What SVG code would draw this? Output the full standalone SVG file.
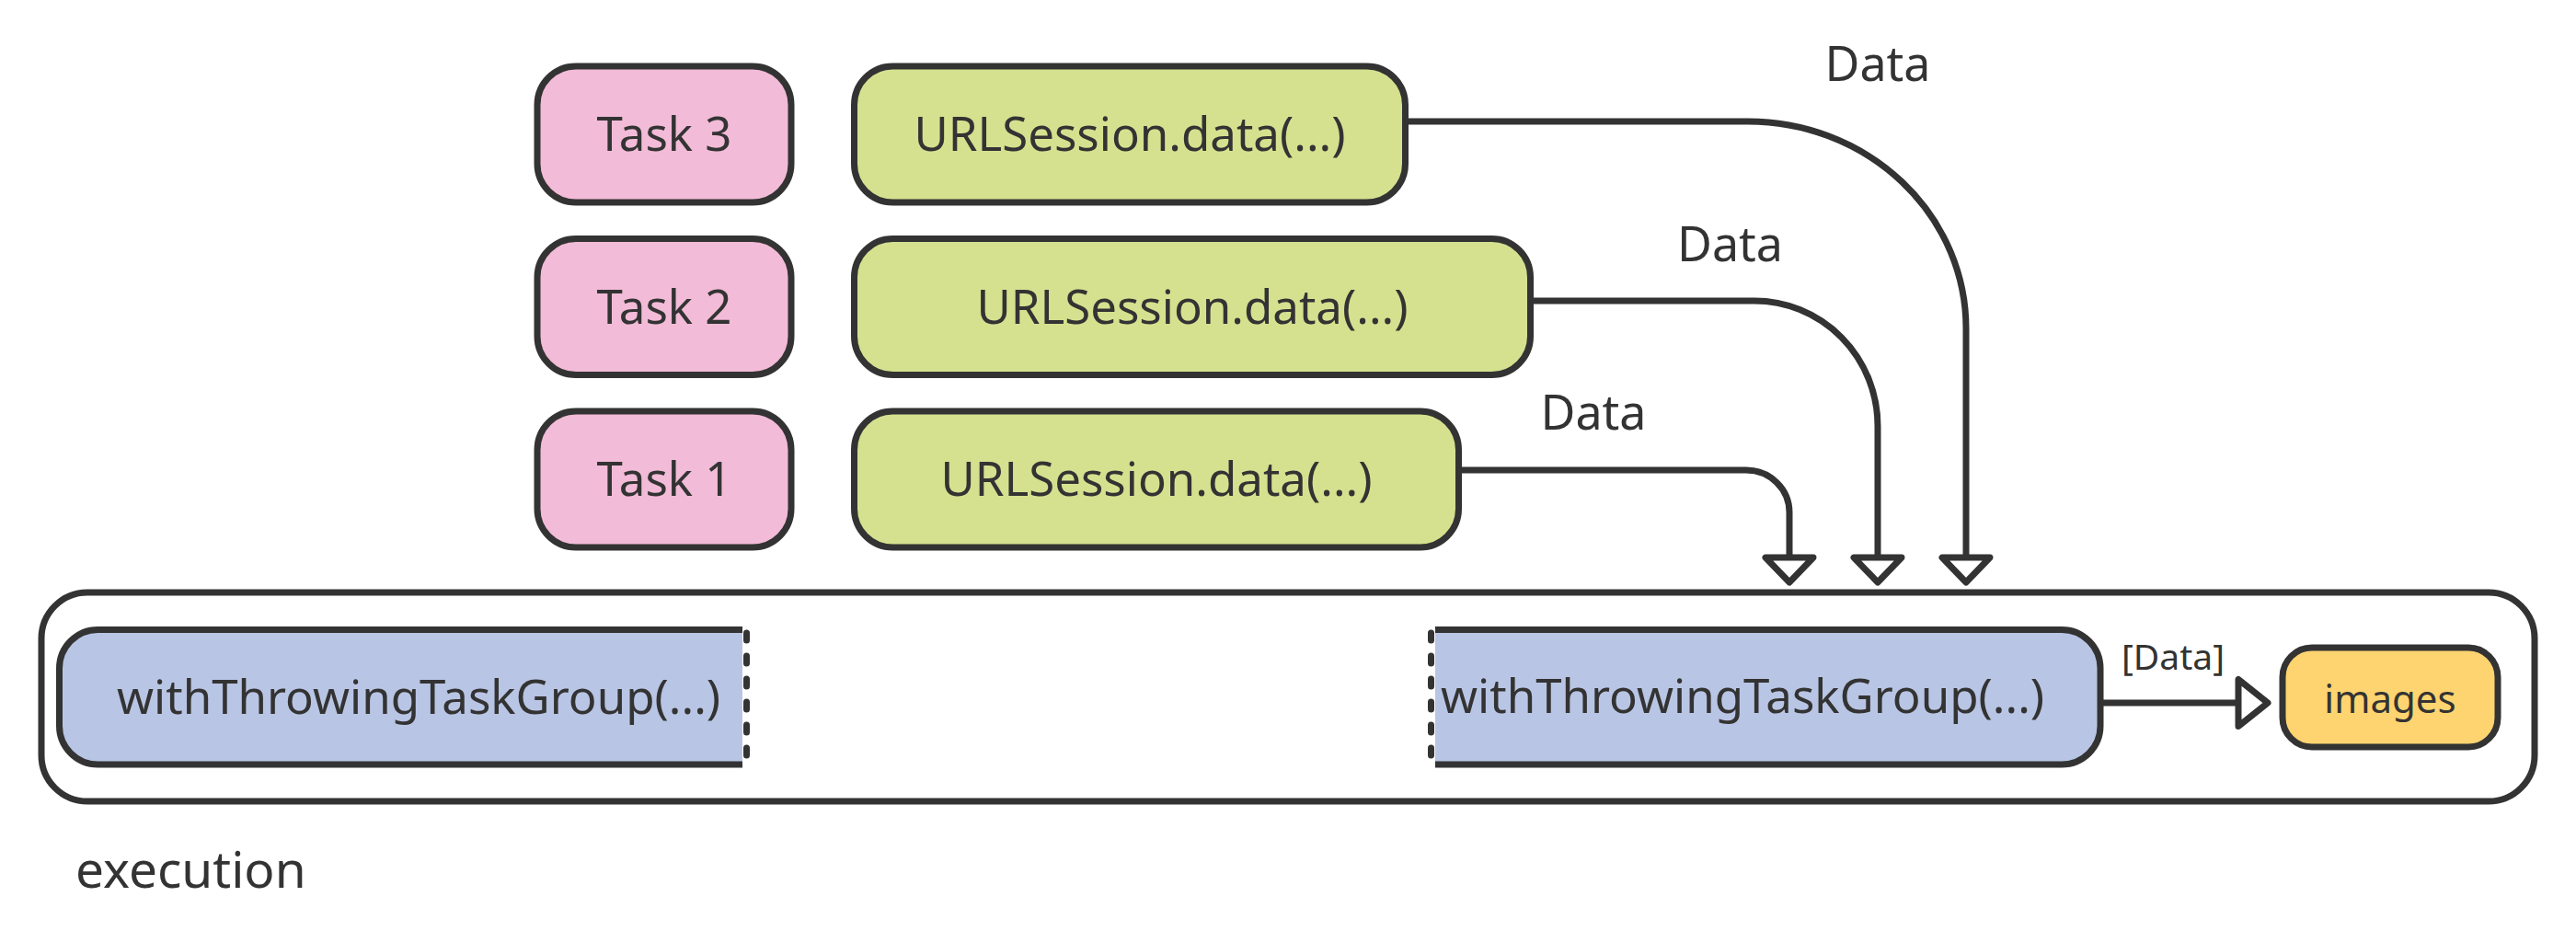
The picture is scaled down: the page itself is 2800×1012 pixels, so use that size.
<svg xmlns="http://www.w3.org/2000/svg" width="2800" height="1012" viewBox="0 0 2800 1012">
<defs>
<style>
text{font-family:"Noto Sans","Open Sans","DejaVu Sans",sans-serif;fill:#333333;}
.lbl{font-size:51px;text-anchor:middle;}
.box{stroke:#333333;stroke-width:7;}
.task{fill:#F2BBD7;}
.url{fill:#D5E18F;}
.grp{fill:#B9C5E4;}
.img{fill:#FED470;}
.edge{fill:none;stroke:#333333;stroke-width:7;stroke-linejoin:round;}
.head{fill:#FFFFFF;stroke:#333333;stroke-width:7;stroke-linejoin:round;}
.dash{fill:none;stroke:#333333;stroke-width:7;stroke-linecap:round;stroke-dasharray:8 17;}
</style>
</defs>
<rect width="2800" height="1012" fill="#FFFFFF"/>

<g id="execution">
<rect x="45" y="644" width="2710" height="227" rx="50" fill="none" stroke="#333333" stroke-width="7"/>
<text x="82" y="965" style="font-size:55px">execution</text>
</g>

<g id="task3">
<rect class="box task" x="584" y="72" width="276" height="148" rx="42"/>
<text class="lbl" x="722" y="164">Task 3</text>
</g>
<g id="task2">
<rect class="box task" x="584" y="259.5" width="276" height="148" rx="42"/>
<text class="lbl" x="722" y="351.5">Task 2</text>
</g>
<g id="task1">
<rect class="box task" x="584" y="447" width="276" height="148" rx="42"/>
<text class="lbl" x="722" y="539">Task 1</text>
</g>

<g id="url3">
<rect class="box url" x="928.5" y="72" width="599" height="148" rx="42"/>
<text class="lbl" x="1228" y="164">URLSession.data(...)</text>
</g>
<g id="url2">
<rect class="box url" x="928.5" y="259.5" width="735" height="148" rx="42"/>
<text class="lbl" x="1296" y="351.5">URLSession.data(...)</text>
</g>
<g id="url1">
<rect class="box url" x="928.5" y="447" width="657" height="148" rx="42"/>
<text class="lbl" x="1257" y="539">URLSession.data(...)</text>
</g>

<g id="group-left">
<path class="grp" d="M807,684.5 H106.5 A42,42 0 0 0 64.5,726.5 V789 A42,42 0 0 0 106.5,831 H807 Z"/>
<path class="edge" d="M807,684.5 H106.5 A42,42 0 0 0 64.5,726.5 V789 A42,42 0 0 0 106.5,831 H807" stroke-linejoin="miter"/>
<line class="dash" x1="811.5" y1="688" x2="811.5" y2="828"/>
<text x="127" y="776" style="font-size:51px">withThrowingTaskGroup(...)</text>
</g>

<g id="group-right">
<path class="grp" d="M1560,684.5 H2241 A42,42 0 0 1 2283,726.5 V789 A42,42 0 0 1 2241,831 H1560 Z"/>
<path class="edge" d="M1560,684.5 H2241 A42,42 0 0 1 2283,726.5 V789 A42,42 0 0 1 2241,831 H1560" stroke-linejoin="miter"/>
<line class="dash" x1="1555.5" y1="688" x2="1555.5" y2="828"/>
<text x="1566" y="775" style="font-size:51px">withThrowingTaskGroup(...)</text>
</g>

<g id="images">
<rect class="box img" x="2481" y="704" width="234" height="108" rx="32"/>
<text x="2598" y="775" style="font-size:42px;text-anchor:middle">images</text>
</g>

<g id="connectors">
<path class="edge" d="M1531,132 H1900 A237,225 0 0 1 2137,357 V606"/>
<polygon class="head" points="2111,606 2163,606 2137,633"/>
<text class="lbl" x="2041" y="88" style="font-size:52px">Data</text>

<path class="edge" d="M1667,327 H1907 A134,136 0 0 1 2041,463 V606"/>
<polygon class="head" points="2015,606 2067,606 2041,633"/>
<text class="lbl" x="1880.5" y="284" style="font-size:52px">Data</text>

<path class="edge" d="M1589,511 H1898 A47,46 0 0 1 1945,557 V606"/>
<polygon class="head" points="1919,606 1971,606 1945,633"/>
<text class="lbl" x="1732" y="467" style="font-size:52px">Data</text>

<path class="edge" d="M2286,764 H2433"/>
<polygon class="head" points="2433,738.5 2433,789.5 2465,764"/>
<text x="2306" y="728" style="font-size:39px">[Data]</text>
</g>
</svg>
